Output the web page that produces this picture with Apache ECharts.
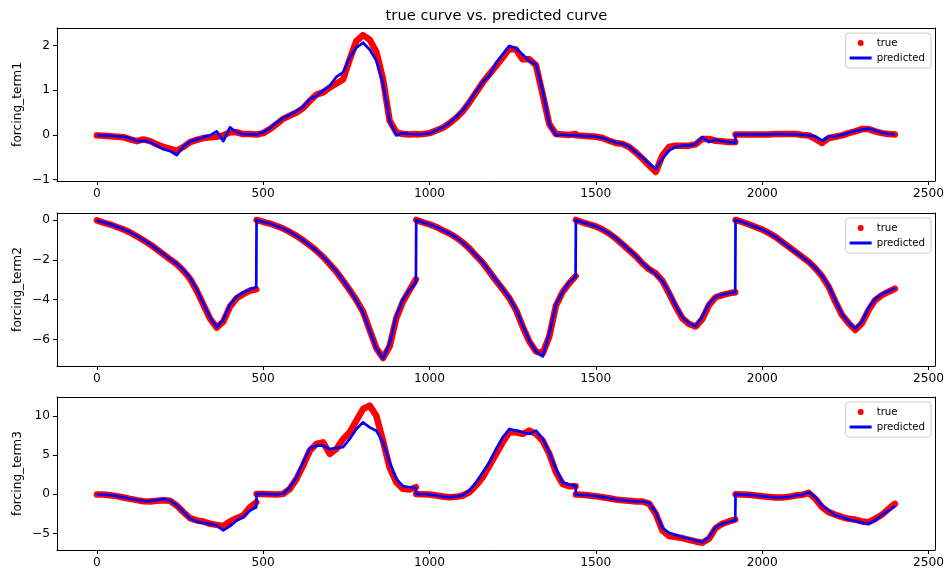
<!DOCTYPE html>
<html>
<head>
<meta charset="utf-8">
<script src="https://cdn.jsdelivr.net/npm/echarts@6/dist/echarts.min.js"></script>
<style>
  html, body { margin: 0; padding: 0; background: #ffffff; }
  #chart { width: 947px; height: 574px; }
</style>
</head>
<body>
<div id="chart"></div>
<script>
// Each run is five trajectories of 480 steps; values are sampled along each one.
const segmentStarts = [0, 480, 960, 1440, 1920];
const segmentOffsets = [0, 20, 40, 60, 80, 100, 120, 140, 160, 180, 200, 220, 240,
                        260, 280, 300, 320, 340, 360, 380, 400, 420, 440, 460, 479];

const xTicks = [0, 500, 1000, 1500, 2000, 2500];
const panelNames = ['forcing_term1', 'forcing_term2', 'forcing_term3'];
const yTicks1 = [-1, 0, 1, 2];
const yTicks2 = [-6, -4, -2, 0];
const yTicks3 = [-5, 0, 5, 10];

const trueTerm1 = [
  -0.01, -0.02, -0.03, -0.04, -0.05, -0.10, -0.14, -0.10, -0.14, -0.21, -0.27, -0.31, -0.35, -0.27, -0.16, -0.11, -0.07, -0.05, -0.04, -0.01, 0.06, 0.06, 0.02, 0.02, 0.01,
  0.01, 0.04, 0.13, 0.24, 0.36, 0.43, 0.50, 0.60, 0.76, 0.90, 0.95, 1.06, 1.15, 1.24, 1.69, 2.10, 2.23, 2.13, 1.86, 1.25, 0.32, 0.06, 0.02, 0.01, 0.02,
  0.01, 0.02, 0.04, 0.10, 0.16, 0.26, 0.38, 0.53, 0.73, 0.95, 1.17, 1.36, 1.54, 1.73, 1.93, 1.91, 1.69, 1.69, 1.56, 0.91, 0.24, 0.02, 0.01, 0.00, 0.02,
  -0.01, -0.02, -0.03, -0.04, -0.07, -0.13, -0.18, -0.20, -0.27, -0.39, -0.53, -0.68, -0.83, -0.46, -0.27, -0.24, -0.24, -0.24, -0.21, -0.09, -0.09, -0.13, -0.14, -0.16, -0.16,
  0.01, 0.01, 0.01, 0.01, 0.01, 0.01, 0.02, 0.02, 0.02, 0.02, 0.00, -0.01, -0.09, -0.18, -0.07, -0.04, -0.01, 0.04, 0.08, 0.13, 0.13, 0.08, 0.04, 0.02, 0.01
];
const predTerm1 = [
  -0.01, -0.01, -0.02, -0.03, -0.04, -0.07, -0.14, -0.13, -0.16, -0.24, -0.32, -0.36, -0.45, -0.26, -0.15, -0.10, -0.05, -0.01, 0.08, -0.14, 0.17, 0.06, 0.02, 0.01, 0.01,
  0.02, 0.06, 0.15, 0.28, 0.38, 0.45, 0.53, 0.63, 0.80, 0.87, 0.99, 1.10, 1.30, 1.40, 1.73, 1.95, 2.06, 1.91, 1.66, 1.15, 0.32, -0.01, 0.04, 0.02, 0.01,
  0.02, 0.02, 0.04, 0.10, 0.17, 0.27, 0.40, 0.55, 0.75, 0.97, 1.19, 1.32, 1.61, 1.80, 1.99, 1.93, 1.80, 1.65, 1.58, 0.99, 0.24, -0.01, 0.01, -0.01, -0.01,
  -0.01, -0.02, -0.03, -0.04, -0.07, -0.12, -0.17, -0.20, -0.26, -0.39, -0.50, -0.64, -0.76, -0.53, -0.35, -0.26, -0.24, -0.24, -0.20, -0.05, -0.16, -0.11, -0.14, -0.16, -0.18,
  0.01, 0.01, 0.01, 0.01, 0.01, 0.01, 0.02, 0.02, 0.01, 0.01, 0.00, -0.01, -0.03, -0.13, -0.04, -0.03, 0.00, 0.05, 0.09, 0.12, 0.14, 0.10, 0.05, 0.02, 0.01
];

const trueTerm2 = [
  -0.02, -0.13, -0.23, -0.35, -0.47, -0.63, -0.82, -1.02, -1.23, -1.48, -1.73, -1.98, -2.22, -2.55, -2.95, -3.55, -4.25, -4.95, -5.40, -5.10, -4.35, -3.93, -3.72, -3.55, -3.48,
  0.00, -0.10, -0.18, -0.30, -0.43, -0.60, -0.80, -1.02, -1.27, -1.55, -1.85, -2.22, -2.60, -3.05, -3.52, -4.02, -4.60, -5.52, -6.43, -6.93, -6.35, -4.93, -4.10, -3.52, -2.98,
  0.00, -0.12, -0.22, -0.35, -0.52, -0.68, -0.88, -1.13, -1.43, -1.80, -2.15, -2.60, -3.05, -3.48, -3.93, -4.52, -5.35, -6.10, -6.60, -6.70, -5.85, -4.30, -3.62, -3.18, -2.82,
  0.00, -0.12, -0.22, -0.32, -0.48, -0.68, -0.93, -1.22, -1.52, -1.82, -2.18, -2.47, -2.68, -3.05, -3.68, -4.35, -4.93, -5.22, -5.35, -4.98, -4.27, -3.88, -3.77, -3.68, -3.63,
  0.00, -0.10, -0.22, -0.35, -0.48, -0.65, -0.85, -1.10, -1.35, -1.60, -1.85, -2.10, -2.43, -2.82, -3.35, -4.10, -4.77, -5.18, -5.52, -5.18, -4.52, -4.02, -3.77, -3.60, -3.45
];
const predTerm2 = [
  -0.02, -0.12, -0.22, -0.34, -0.46, -0.62, -0.80, -1.00, -1.21, -1.46, -1.71, -1.96, -2.20, -2.50, -2.90, -3.48, -4.20, -4.90, -5.38, -5.00, -4.25, -3.85, -3.65, -3.47, -3.38,
  0.00, -0.10, -0.18, -0.30, -0.43, -0.60, -0.80, -1.02, -1.27, -1.55, -1.85, -2.20, -2.58, -3.02, -3.50, -4.05, -4.65, -5.55, -6.45, -6.95, -6.20, -4.80, -4.00, -3.50, -3.15,
  0.00, -0.12, -0.22, -0.35, -0.52, -0.68, -0.88, -1.13, -1.43, -1.78, -2.13, -2.58, -3.02, -3.45, -3.90, -4.50, -5.30, -6.05, -6.60, -6.85, -5.70, -4.25, -3.62, -3.12, -2.85,
  0.00, -0.12, -0.22, -0.32, -0.48, -0.67, -0.91, -1.20, -1.50, -1.80, -2.15, -2.45, -2.72, -3.05, -3.62, -4.30, -4.88, -5.18, -5.33, -4.85, -4.20, -3.85, -3.75, -3.67, -3.62,
  0.00, -0.10, -0.22, -0.35, -0.48, -0.65, -0.85, -1.10, -1.35, -1.60, -1.85, -2.10, -2.42, -2.80, -3.30, -4.05, -4.72, -5.15, -5.45, -5.10, -4.40, -3.95, -3.72, -3.57, -3.42
];

const trueTerm3 = [
  -0.04, -0.04, -0.13, -0.25, -0.42, -0.60, -0.76, -0.89, -0.93, -0.85, -0.76, -0.85, -1.44, -2.29, -3.06, -3.35, -3.48, -3.78, -3.91, -4.08, -3.48, -3.06, -2.72, -1.66, -1.02,
  0.04, 0.04, 0.00, -0.04, 0.04, 0.68, 1.95, 3.65, 5.56, 6.41, 6.62, 5.14, 5.77, 7.05, 7.90, 9.38, 10.87, 11.30, 10.00, 6.80, 3.40, 1.53, 0.68, 0.59, 0.89,
  0.04, 0.00, -0.04, -0.17, -0.30, -0.38, -0.34, -0.17, 0.25, 1.10, 2.17, 3.65, 5.14, 6.62, 7.90, 7.90, 7.69, 8.11, 7.69, 6.84, 5.14, 2.80, 1.32, 1.02, 1.02,
  -0.04, -0.08, -0.17, -0.25, -0.38, -0.51, -0.68, -0.76, -0.85, -0.93, -0.93, -1.20, -2.50, -4.63, -5.35, -5.48, -5.60, -5.82, -6.03, -6.20, -5.69, -4.33, -3.78, -3.48, -3.23,
  0.00, -0.04, -0.08, -0.17, -0.25, -0.34, -0.42, -0.42, -0.34, -0.17, -0.08, 0.17, -0.59, -1.66, -2.29, -2.63, -2.93, -3.14, -3.23, -3.48, -3.57, -3.14, -2.63, -1.87, -1.23
];
const predTerm3 = [
  -0.04, -0.04, -0.11, -0.23, -0.40, -0.58, -0.74, -0.87, -0.89, -0.76, -0.60, -0.82, -1.40, -2.25, -3.10, -3.48, -3.69, -3.78, -3.99, -4.63, -4.08, -3.35, -2.93, -2.08, -1.66,
  0.04, 0.04, 0.00, -0.02, 0.06, 0.89, 2.17, 4.08, 5.86, 6.20, 6.20, 5.77, 5.90, 5.99, 7.05, 8.32, 9.17, 8.53, 8.10, 6.62, 4.08, 1.95, 1.02, 0.89, 0.76,
  0.04, 0.00, -0.04, -0.17, -0.30, -0.38, -0.32, -0.12, 0.47, 1.53, 2.80, 4.08, 5.77, 7.26, 8.32, 8.11, 7.90, 7.69, 8.11, 7.05, 5.35, 3.23, 1.53, 1.19, 1.10,
  -0.04, -0.08, -0.17, -0.25, -0.38, -0.51, -0.68, -0.76, -0.85, -0.93, -0.93, -1.10, -2.30, -4.30, -4.93, -5.18, -5.48, -5.69, -5.90, -6.11, -5.48, -4.20, -3.78, -3.55, -3.35,
  0.00, -0.04, -0.08, -0.17, -0.25, -0.34, -0.42, -0.42, -0.34, -0.17, -0.08, 0.25, -0.38, -1.44, -2.08, -2.72, -2.93, -3.23, -3.44, -3.65, -3.78, -3.35, -2.63, -2.08, -1.53
];

const trueSeries = [trueTerm1, trueTerm2, trueTerm3];
const predSeries = [predTerm1, predTerm2, predTerm3];
const yTickSets = [yTicks1, yTicks2, yTicks3];
const yRanges = [[-1.03, 2.39], [-7.33, 0.35], [-7.12, 12.4]];

// sample positions along the step axis
const sampleX = [];
segmentStarts.forEach(s => segmentOffsets.forEach(o => sampleX.push(s + o)));

// [x, y] pairs; the measured points are split at trajectory boundaries
function toPairs(values, splitSegments) {
  const out = [];
  values.forEach((v, i) => {
    out.push([sampleX[i], v]);
    if (splitSegments && (i + 1) % segmentOffsets.length === 0 && i < values.length - 1) {
      out.push([sampleX[i] + 0.5, '-']);
    }
  });
  return out;
}

const FONT = '"DejaVu Sans", "Liberation Sans", sans-serif';
const gridTops = [28, 213, 397];
const gridLeft = 57, gridWidth = 879, gridHeight = 153;
const X_MIN = -120, X_MAX = 2519;

const grids = [], xAxes = [], yAxes = [], series = [], legends = [];
const frameX = [], frameY = [];

const spine = { show: true, onZero: false, lineStyle: { color: '#000', width: 1 } };
// plain numbers with a typographic minus sign, no thousands separator
const plainLabel = v => String(v).replace('-', '\u2212');

gridTops.forEach((top, i) => {
  grids.push({ left: gridLeft, top: top, width: gridWidth, height: gridHeight });
  xAxes.push({
    type: 'value', gridIndex: i, min: X_MIN, max: X_MAX, position: 'bottom',
    axisLine: spine,
    axisTick: { show: true, inside: false, length: 4, customValues: xTicks,
                lineStyle: { color: '#000', width: 1 } },
    axisLabel: { show: true, customValues: xTicks, margin: 7, color: '#000',
                 fontSize: 12.2, fontFamily: FONT, formatter: plainLabel },
    splitLine: { show: false }
  });
  yAxes.push({
    type: 'value', gridIndex: i, min: yRanges[i][0], max: yRanges[i][1], position: 'left',
    name: panelNames[i], nameLocation: 'middle', nameGap: 33, nameRotate: 90,
    nameMoveOverlap: false,
    nameTextStyle: { color: '#000', fontSize: 12.2, fontFamily: FONT },
    axisLine: spine,
    axisTick: { show: true, inside: false, length: 4, customValues: yTickSets[i],
                lineStyle: { color: '#000', width: 1 } },
    axisLabel: { show: true, customValues: yTickSets[i], margin: 7, color: '#000',
                 fontSize: 12.2, fontFamily: FONT, formatter: plainLabel },
    splitLine: { show: false }
  });
  // top and right edges of the plot frame
  frameX.push({
    type: 'value', gridIndex: i, min: X_MIN, max: X_MAX, position: 'top',
    axisLine: spine, axisTick: { show: false }, axisLabel: { show: false },
    splitLine: { show: false }
  });
  frameY.push({
    type: 'value', gridIndex: i, min: yRanges[i][0], max: yRanges[i][1], position: 'right',
    axisLine: spine, axisTick: { show: false }, axisLabel: { show: false },
    splitLine: { show: false }
  });
  series.push({
    name: 'true', type: 'line', xAxisIndex: i, yAxisIndex: i,
    data: toPairs(trueSeries[i], true),
    showSymbol: false, connectNulls: false, z: 2,
    itemStyle: { color: '#ff0000' },
    lineStyle: { color: '#ff0000', width: 6.5, cap: 'round', join: 'round' }
  });
  series.push({
    name: 'predicted', type: 'line', xAxisIndex: i, yAxisIndex: i,
    data: toPairs(predSeries[i], false),
    showSymbol: false, z: 3,
    itemStyle: { color: '#0000ff' },
    lineStyle: { color: '#0000ff', width: 2.7, join: 'round' }
  });
  legends.push({
    orient: 'vertical', right: 16, top: top + 5,
    padding: [4, 6, 4, 4], itemGap: 3, itemWidth: 22, itemHeight: 6,
    backgroundColor: 'rgba(255,255,255,0.8)', borderColor: '#cccccc',
    borderWidth: 1, borderRadius: 3, selectedMode: false,
    textStyle: { color: '#000', fontSize: 10.2, fontFamily: FONT, lineHeight: 12 },
    data: [
      { name: 'true', icon: 'circle' },
      { name: 'predicted', icon: 'path://M0 0H22V3H0Z' }
    ]
  });
});

const chart = echarts.init(document.getElementById('chart'), null, { renderer: 'canvas' });
chart.setOption({
  animation: false,
  backgroundColor: '#ffffff',
  graphic: [{
    type: 'text', x: 496.5, y: 16,
    style: { text: 'true curve vs. predicted curve', fill: '#000',
             font: '14.7px "DejaVu Sans", sans-serif', align: 'center', verticalAlign: 'middle' }
  }],
  grid: grids,
  xAxis: xAxes.concat(frameX),
  yAxis: yAxes.concat(frameY),
  legend: legends,
  series: series
});
</script>
</body>
</html>
